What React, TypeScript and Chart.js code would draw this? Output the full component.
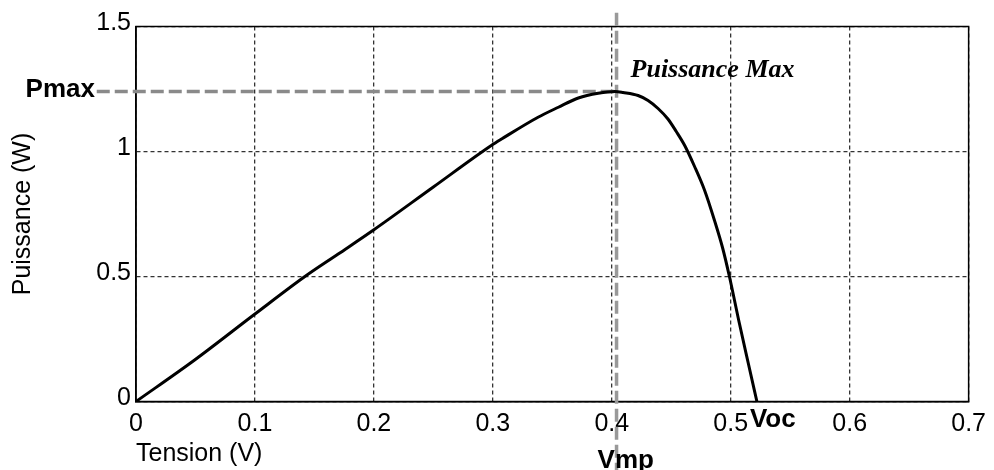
import React, { useEffect, useRef } from "react";
import { Chart, registerables } from "chart.js";

Chart.register(...registerables);

// Tension (V) and Puissance (W)
const voltage = [0, 0.049, 0.1, 0.142, 0.17, 0.2, 0.25, 0.2987, 0.3077, 0.338, 0.3551, 0.3719, 0.3886, 0.4026, 0.4095, 0.4221, 0.4305, 0.4389, 0.4472, 0.4542, 0.4612, 0.4696, 0.478, 0.4863, 0.4933, 0.4989, 0.5073, 0.5148, 0.522];
const power = [0, 0.165, 0.35, 0.5, 0.59, 0.687, 0.858, 1.024, 1.051, 1.137, 1.177, 1.214, 1.233, 1.24, 1.236, 1.224, 1.204, 1.172, 1.13, 1.08, 1.025, 0.94, 0.845, 0.725, 0.612, 0.5, 0.312, 0.152, 0];

const pMax = 1.24;
const vMp = 0.404;
const vOc = 0.522;

const xTickLabels = ["0", "0.1", "0.2", "0.3", "0.4", "0.5", "0.6", "0.7"];
const yTickLabels = ["0", "0.5", "1", "1.5"];

const pmaxLineX = [-0.033, vMp];
const vmpLineY = [1.555, -0.3];

const SANS = "'Liberation Sans', Arial, sans-serif";

export default function App() {
  const ref = useRef<HTMLCanvasElement>(null);
  useEffect(() => {
    const canvas = ref.current!;
    const framePlugin = {
      id: "frame",
      beforeDatasetsDraw(chart: any) {
        const { ctx, chartArea: a } = chart;
        ctx.save();
        ctx.strokeStyle = "#000";
        ctx.lineWidth = 1.5;
        ctx.strokeRect(a.left, a.top, a.right - a.left, a.bottom - a.top);
        ctx.restore();
      },
      afterDraw(chart: any) {
        const { ctx } = chart;
        const xs = chart.scales.x;
        const ys = chart.scales.y;
        ctx.save();
        ctx.fillStyle = "#000";
        ctx.textBaseline = "alphabetic";
        ctx.font = `bold 26px ${SANS}`;
        ctx.textAlign = "right";
        ctx.fillText("Pmax", xs.left - 41, ys.getPixelForValue(pMax) + 5);
        ctx.textAlign = "left";
        ctx.fillText("Voc", xs.getPixelForValue(vOc) - 7, ys.bottom + 25);
        ctx.fillText("Vmp", xs.getPixelForValue(vMp) - 19, ys.bottom + 66);
        ctx.font = `italic bold 26px 'Liberation Serif', 'Times New Roman', serif`;
        ctx.fillText("Puissance Max", xs.getPixelForValue(vMp) + 14, ys.getPixelForValue(pMax) - 15);
        ctx.restore();
      },
    };
    const chart = new Chart(canvas, {
      type: "line",
      data: {
        datasets: [
          {
            data: voltage.map((v, i) => ({ x: v, y: power[i] })),
            borderColor: "#000",
            borderWidth: 3,
            pointRadius: 0,
            cubicInterpolationMode: "monotone",
          },
          {
            data: pmaxLineX.map((x) => ({ x, y: pMax })),
            borderColor: "#8a8a8a",
            borderWidth: 3.5,
            borderDash: [13, 5],
            pointRadius: 0,
            clip: false,
          } as any,
          {
            data: vmpLineY.map((y) => ({ x: vMp, y })),
            borderColor: "#999",
            borderWidth: 3.5,
            borderDash: [13, 5],
            pointRadius: 0,
            clip: false,
          } as any,
        ],
      },
      options: {
        responsive: false,
        animation: false,
        events: [],
        layout: { padding: { left: 0, top: 26.5, right: 22, bottom: 0 } },
        plugins: { legend: { display: false }, tooltip: { enabled: false } },
        scales: {
          x: {
            type: "linear",
            min: 0,
            max: 0.7,
            afterFit: (s: any) => { s.height = 68.5; },
            ticks: {
              stepSize: 0.1,
              color: "#000",
              padding: 8,
              maxRotation: 0,
              font: { family: SANS, size: 25 },
              callback: (_v: any, i: number) => xTickLabels[i],
            },
            grid: { color: "#333", lineWidth: 1.3, drawTicks: false },
            border: { display: true, color: "#000", width: 1.5, dash: [4, 3] },
            title: {
              display: true,
              text: "Tension (V)",
              align: "start",
              color: "#000",
              font: { family: SANS, size: 25 },
              padding: { top: 0, bottom: 1 },
            },
          },
          y: {
            type: "linear",
            min: 0,
            max: 1.5,
            afterFit: (s: any) => { s.width = 136; },
            ticks: {
              stepSize: 0.5,
              color: "#000",
              padding: 5,
              labelOffset: -3,
              font: { family: SANS, size: 25 },
              callback: (_v: any, i: number) => yTickLabels[i],
            },
            grid: { color: "#333", lineWidth: 1.3, drawTicks: false },
            border: { display: true, color: "#000", width: 1.5, dash: [4, 3] },
            title: {
              display: true,
              text: "Puissance (W)",
              color: "#000",
              font: { family: SANS, size: 25 },
              padding: { top: 8, bottom: 0 },
            },
          },
        },
      },
      plugins: [framePlugin],
    } as any);
    return () => chart.destroy();
  }, []);
  return (
    <div style={{ position: "fixed", left: 0, top: 0, width: 994, height: 470, background: "#fff" }}>
      <canvas ref={ref} width={994} height={470} />
    </div>
  );
}
